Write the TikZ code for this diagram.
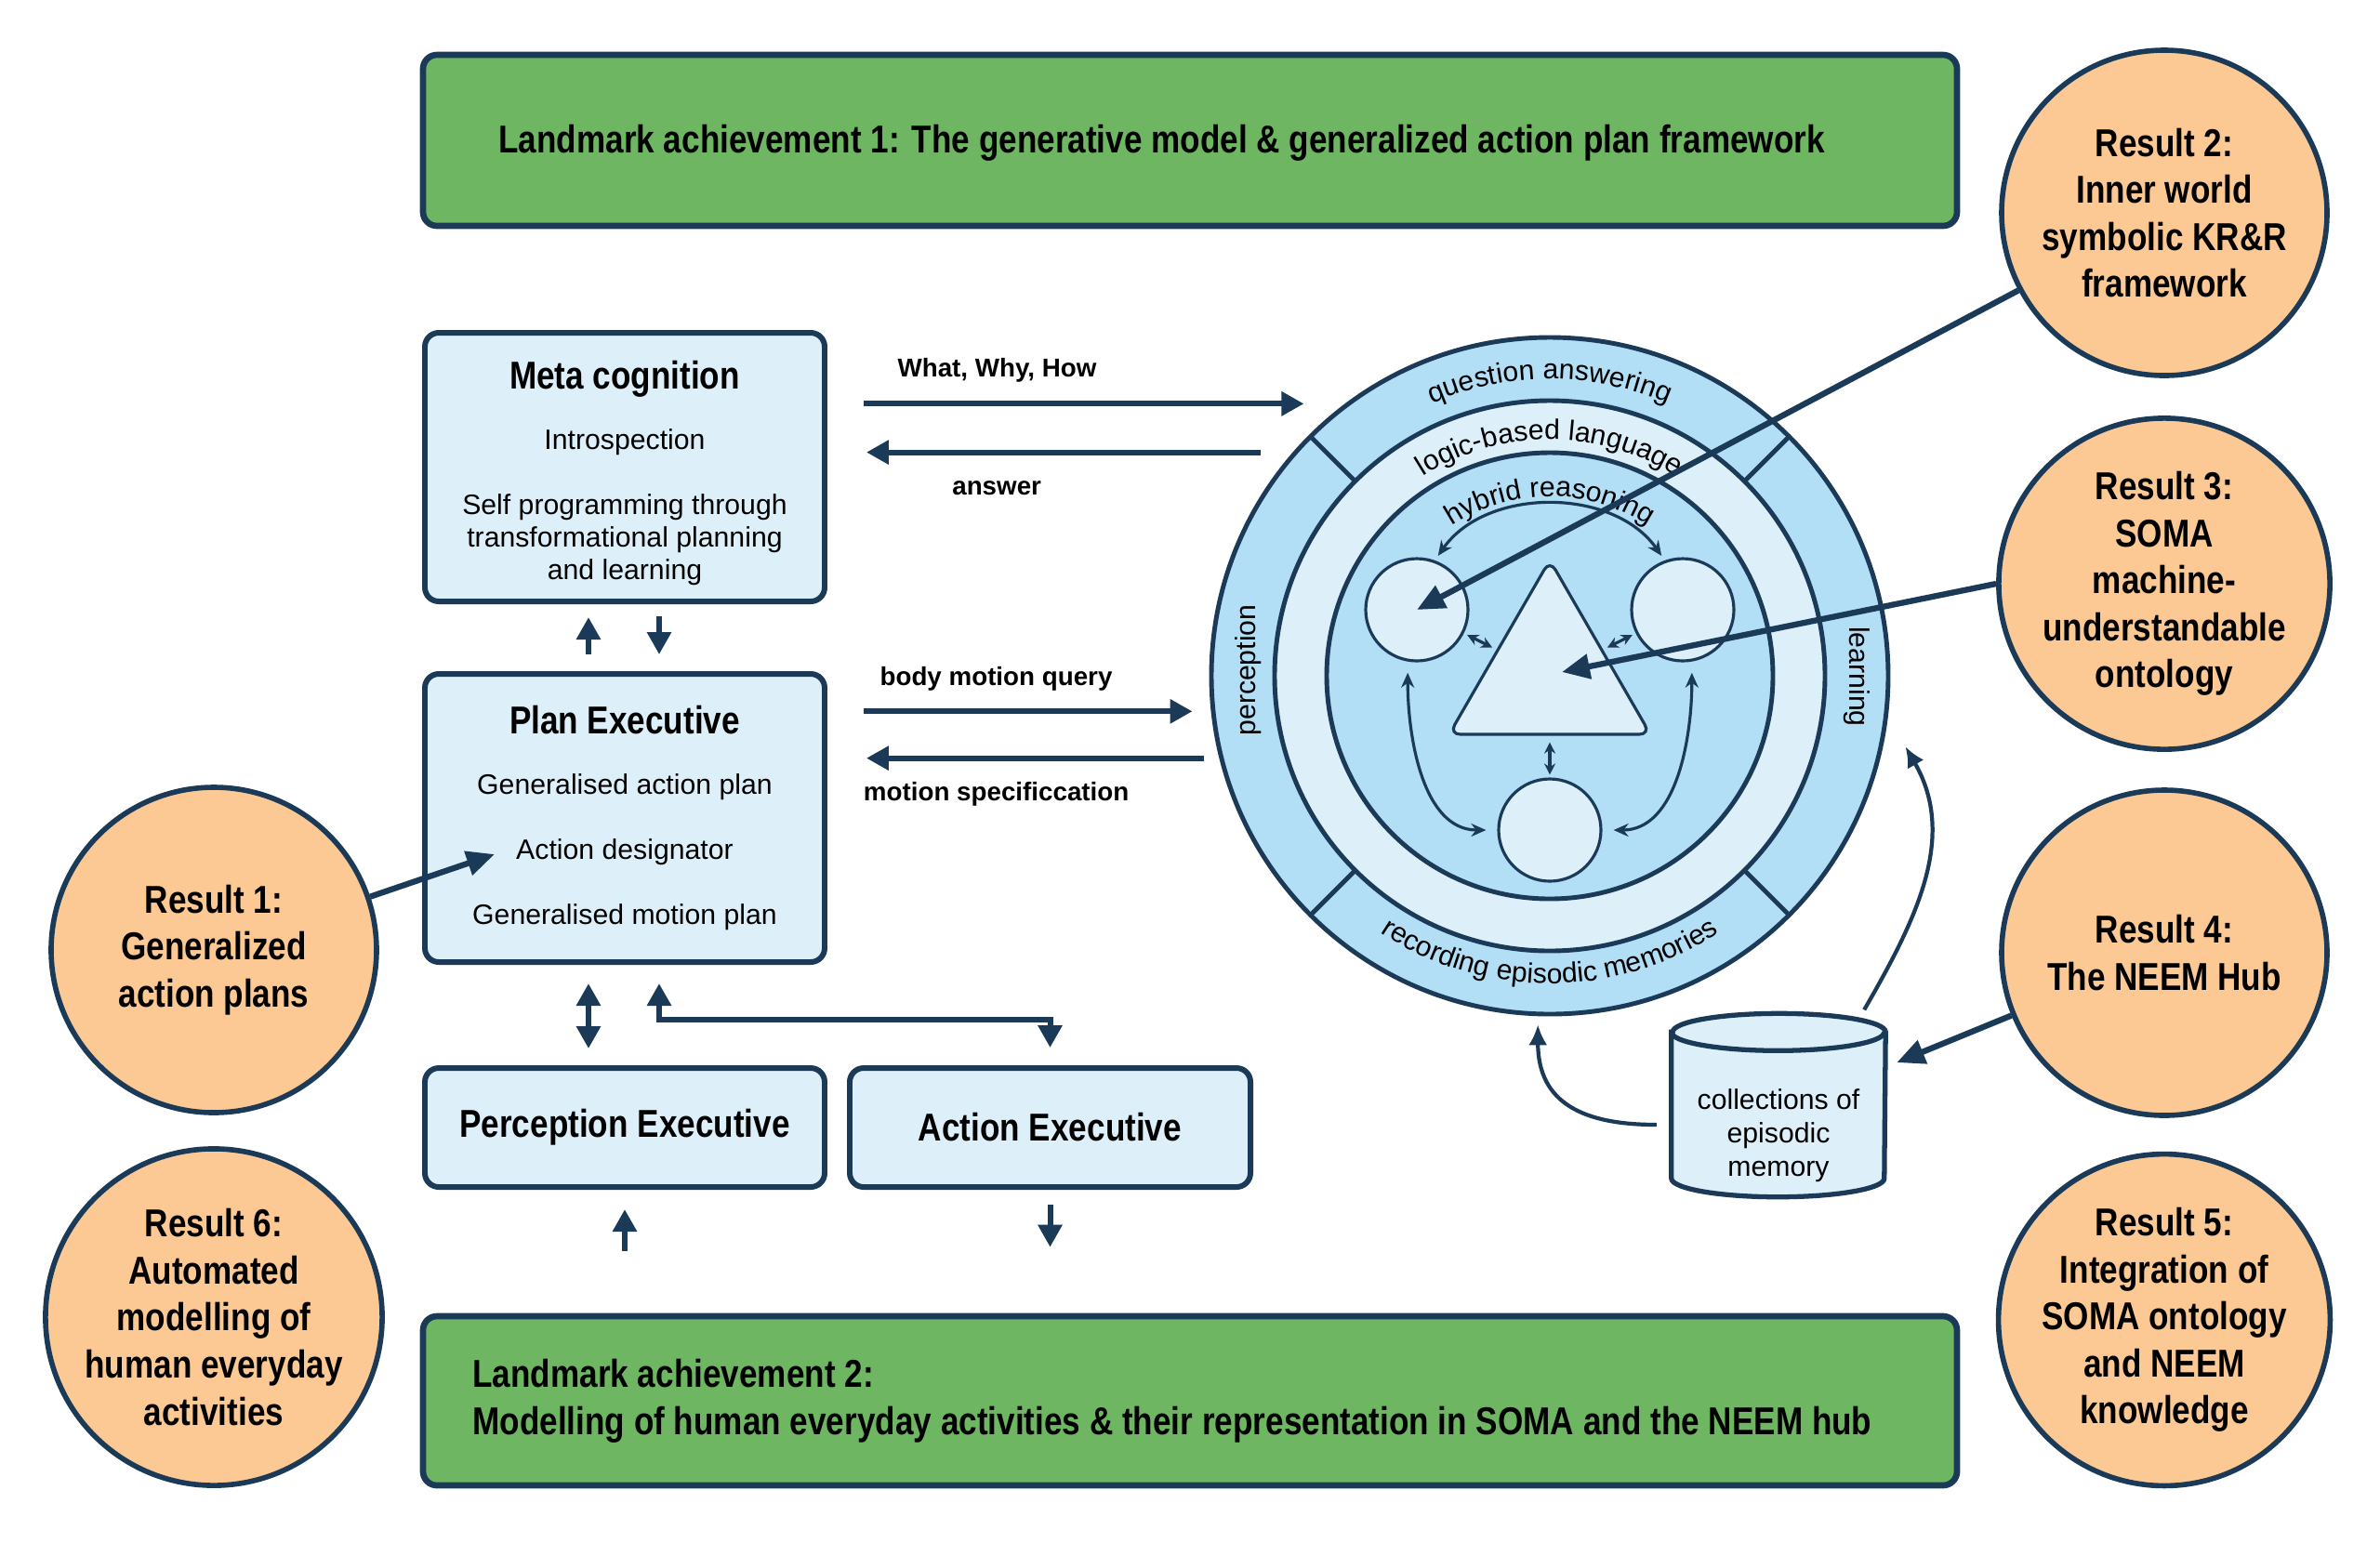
\documentclass[tikz,border=0pt]{standalone}
\usepackage{fontspec}
\setmainfont{Liberation Sans}
\newfontfamily\condfont[FakeStretch=0.84]{Liberation Sans}
\usetikzlibrary{shapes,shapes.geometric,arrows,arrows.meta,positioning,decorations.text,backgrounds}

\definecolor{navy}{RGB}{27,58,87}
\definecolor{boxblue}{RGB}{221,240,250}
\definecolor{ringblue}{RGB}{178,222,246}
\definecolor{lmgreen}{RGB}{110,182,98}
\definecolor{resorange}{RGB}{252,201,148}

\newcommand{\titlefont}{\condfont\bfseries\fontsize{11.9}{14.4}\selectfont}
\newcommand{\bodyfont}{\fontsize{8.6}{10}\selectfont}
\newcommand{\arrfont}{\bfseries\fontsize{7.9}{9.5}\selectfont}
\newcommand{\ringfont}{\fontsize{8.6}{10.2}\selectfont}
\newcommand{\ringlabel}[4]{
  \path[decorate, decoration={text along path, text align=center,
        text={|\ringfont|#4}}]
    (kb.center) ++(#2:#1) arc[start angle=#2, end angle=#3, radius=#1];
}
\newcommand{\resultnode}[3]{
  \node[result] (#1) at (#2) {#3};
}

\tikzset{
  box/.style      = {draw=navy, fill=boxblue, line width=1.7pt, rounded corners=0.15cm,
                     align=center, font=\bodyfont, inner sep=0pt},
  landmark/.style = {draw=navy, fill=lmgreen, line width=1.9pt, rounded corners=0.15cm,
                     minimum width=16.5cm},
  lmtext/.style   = {font=\titlefont, anchor=west, align=left, inner sep=0pt},
  result/.style   = {circle, draw=navy, fill=resorange, line width=1.6pt, minimum size=3.5cm,
                     align=center, font=\titlefont, inner sep=0pt},
  innershape/.style = {draw=navy, fill=boxblue, line width=0.9pt, inner sep=0pt},
  arrlabel/.style = {font=\arrfont, text=black},
  arr/.style      = {navy, line width=1.7pt, -{Triangle[length=0.24cm, width=0.25cm]}},
  dblarr/.style   = {navy, line width=1.7pt,
                     {Triangle[length=0.24cm, width=0.25cm]}-{Triangle[length=0.24cm, width=0.25cm]}},
  bigarr/.style   = {navy, line width=1.8pt, -{Triangle[length=0.3cm, width=0.26cm]}},
  thinarr/.style  = {navy, line width=1.2pt, -{Latex[length=0.22cm, width=0.2cm]}},
  tinyarr/.style  = {navy, line width=0.9pt,
                     {Stealth[length=0.12cm, width=0.12cm]}-{Stealth[length=0.12cm, width=0.12cm]}},
  curvarr/.style  = {navy, line width=0.9pt,
                     {Stealth[length=0.16cm, width=0.14cm]}-{Stealth[length=0.16cm, width=0.14cm]}}
}

\begin{document}
\begin{tikzpicture}
  \useasboundingbox (0,0) rectangle (25.6,-16.73);

  \node[landmark, minimum height=1.84cm] (lm1) at (12.8,-1.51) {};
  \node[landmark, minimum height=1.82cm] (lm2) at (12.8,-15.07) {};
  \node[lmtext] (lm1txt) at ([xshift=0.84cm, yshift=-0.03cm]lm1.west)
    {Landmark achievement 1: The generative model \& generalized action plan framework};
  \node[lmtext] (lm2txt) at ([xshift=0.56cm]lm2.west)
    {Landmark achievement 2:\\Modelling of human everyday activities \& their representation in SOMA and the NEEM hub};

  \node[box, minimum width=4.3cm, minimum height=2.89cm] (meta) at (6.72,-5.025)
    {{\titlefont\rule{0pt}{12.2pt}Meta cognition}\\[8.5pt]Introspection\\[10pt]Self programming through\\transformational planning\\and learning};
  \node[box, minimum width=4.3cm, minimum height=3.10cm] (plan) at (6.72,-8.80)
    {{\titlefont Plan Executive}\\[8.5pt]Generalised action plan\\[9.9pt]Action designator\\[9.9pt]Generalised motion plan};
  \node[box, font=\titlefont, minimum width=4.3cm, minimum height=1.28cm] (perc) at (6.72,-12.13) {Perception Executive};
  \node[box, font=\titlefont, minimum width=4.31cm, minimum height=1.28cm] (act) at (11.295,-12.13) {Action Executive};
  \coordinate (desig) at ([xshift=-1.40cm, yshift=-0.39cm]plan.center);

  \node[circle, draw=navy, fill=ringblue, line width=1.4pt, minimum size=7.28cm, inner sep=0pt] (kb) at (16.67,-7.27) {};
  \draw[navy, line width=1.4pt, fill=boxblue] (kb.center) circle[radius=2.96];
  \draw[navy, line width=1.4pt, fill=ringblue] (kb.center) circle[radius=2.40];
  \foreach \a in {45,135,225,315}
    \draw[navy, line width=1.4pt] (kb.center) ++(\a:2.96) -- ++(\a:0.68);
  \ringlabel{3.19}{150}{30}{question answering}
  \ringlabel{2.54}{150}{30}{logic-based language}
  \ringlabel{1.93}{150}{30}{hybrid reasoning}
  \ringlabel{3.31}{205}{335}{recording episodic memories}
  \node[rotate=90, font=\ringfont] (perclbl) at (13.43,-7.21) {perception};
  \node[rotate=-90, font=\ringfont] (learnlbl) at (19.97,-7.28) {learning};

  \node[innershape, circle, minimum size=1.1cm] (lc) at (15.24,-6.56) {};
  \node[innershape, circle, minimum size=1.1cm] (rc) at (18.10,-6.56) {};
  \node[innershape, circle, minimum size=1.1cm] (bc) at (16.67,-8.93) {};
  \node[innershape, regular polygon, regular polygon sides=3, minimum size=2.50cm,
        rounded corners=0.12cm] (tri) at (16.67,-7.275) {};
  \draw[tinyarr, shorten <=0.04cm, shorten >=0.05cm] (lc) -- (tri);
  \draw[tinyarr, shorten <=0.04cm, shorten >=0.05cm] (rc) -- (tri);
  \draw[tinyarr, shorten <=0.07cm, shorten >=0.03cm] (tri) -- (bc);
  \draw[curvarr, shorten <=0.06cm, shorten >=0.06cm] (lc.70) to[bend left=55] (rc.110);
  \draw[curvarr, shorten <=0.12cm, shorten >=0.12cm] (lc.260) to[out=-90, in=180] (bc.west);
  \draw[curvarr, shorten <=0.12cm, shorten >=0.12cm] (rc.280) to[out=-90, in=0] (bc.east);

  \node[font=\ringfont, align=center, minimum width=2.29cm, minimum height=1.30cm, inner sep=0pt] (neem)
    at (19.13,-12.22) {collections of\\episodic\\memory};
  \begin{scope}[on background layer]
    \draw[navy, line width=1.5pt, fill=boxblue] ([yshift=0.46cm]neem.north west) -- ([yshift=0.2cm]neem.south west)
      arc[start angle=180, end angle=360, x radius=1.145, y radius=0.2] -- ([yshift=0.46cm]neem.north east)
      arc[start angle=0, end angle=180, x radius=1.145, y radius=0.2] -- cycle;
    \draw[navy, line width=1.5pt] ([yshift=0.46cm]neem.north west)
      arc[start angle=180, end angle=360, x radius=1.145, y radius=0.2];
  \end{scope}

  \resultnode{res1}{2.30,-10.22}{Result 1:\\Generalized\\action plans}
  \resultnode{res6}{2.30,-14.17}{Result 6:\\Automated\\modelling of\\human everyday\\activities}
  \resultnode{res2}{23.28,-2.29}{Result 2:\\Inner world\\symbolic KR\&R\\framework}
  \resultnode{res3}{23.28,-6.28}{Result 3:\\SOMA\\machine-\\understandable\\ontology}
  \resultnode{res4}{23.28,-10.25}{Result 4:\\The NEEM Hub}
  \resultnode{res5}{23.28,-14.20}{Result 5:\\Integration of\\SOMA ontology\\and NEEM\\knowledge}

  \draw[arr, shorten <=0.39cm, shorten >=0.44cm] (meta.east |- kb.127) -- (kb.127)
    node[arrlabel, pos=0.328, yshift=0.36cm] (qlbl) {What, Why, How};
  \draw[arr, shorten <=0.34cm, shorten >=0.42cm] (kb.139) -- (meta.east |- kb.139)
    node[arrlabel, pos=0.636, yshift=-0.39cm] (albl) {answer};
  \draw[arr, shorten <=0.39cm, shorten >=0.20cm] (plan.east |- kb.186) -- (kb.186)
    node[arrlabel, pos=0.44, yshift=0.35cm] (blbl) {body motion query};
  \draw[arr, shorten <=0.16cm, shorten >=0.42cm] (kb.194) -- (plan.east |- kb.194)
    node[arrlabel, pos=0.569, yshift=-0.39cm] (mlbl) {motion specificcation};

  \draw[arr, shorten <=0.18cm, shorten >=0.14cm] ([xshift=-0.39cm]plan.north) -- ([xshift=-0.39cm]meta.south);
  \draw[arr, shorten <=0.13cm, shorten >=0.18cm] ([xshift=0.37cm]meta.south) -- ([xshift=0.37cm]plan.north);
  \draw[dblarr, shorten <=0.20cm, shorten >=0.18cm] ([xshift=-0.39cm]plan.south) -- ([xshift=-0.39cm]perc.north);
  \draw[dblarr, shorten <=0.20cm, shorten >=0.19cm] ([xshift=0.37cm]plan.south) -- ++(0,-0.59) -| (act.north);
  \draw[arr, shorten <=0.67cm, shorten >=0.21cm] (perc.south |- lm2.north) -- (perc.south);
  \draw[arr, shorten <=0.16cm, shorten >=0.71cm] (act.south) -- (act.south |- lm2.north);

  \draw[thinarr, shorten <=0.16cm, shorten >=0.09cm] ([yshift=0.12cm]neem.west) to[out=180, in=-90, looseness=1.3] (kb.268);
  \draw[thinarr] ([xshift=-0.23cm, yshift=0.70cm]neem.north east) to[out=60, in=-60] ([xshift=0.24cm]kb.348);

  \draw[bigarr] (res1) -- (desig);
  \draw[bigarr] (res2) -- (lc.center);
  \draw[bigarr] (res3.west) -- ([xshift=0.13cm, yshift=0.045cm]tri.center);
  \draw[bigarr, shorten >=0.13cm] (res4) -- ([yshift=0.74cm]neem.east);
\end{tikzpicture}
\end{document}
